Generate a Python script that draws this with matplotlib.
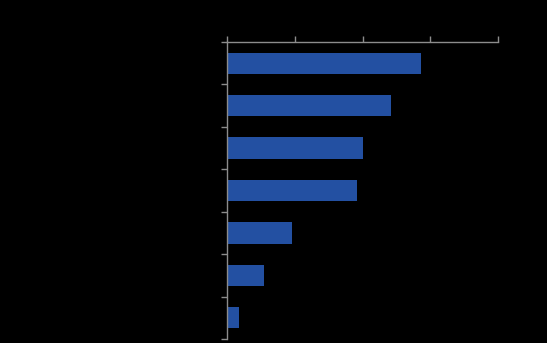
import numpy as np
import matplotlib.pyplot as plt

# categories are not readable in the reference (text drawn black on black)
categories = ['A', 'B', 'C', 'D', 'E', 'F', 'G']
values = [28.6, 24.2, 20.0, 19.2, 9.6, 5.4, 1.8]
x_ticks = [0, 10, 20, 30, 40]

bar_color = '#2350a2'
axis_color = '#8c8c8c'

fig = plt.figure(figsize=(5.47, 3.43), dpi=100, facecolor='black')
ax = fig.add_axes([227 / 547, 1 - 339 / 343, 271 / 547, 297 / 343])
ax.set_facecolor('black')

y = np.arange(len(categories))
ax.barh(y, values, height=0.5, color=bar_color)

ax.set_xlim(x_ticks[0], x_ticks[-1])
ax.set_ylim(len(categories) - 0.5, -0.5)

ax.xaxis.tick_top()
ax.set_xticks(x_ticks)
ax.set_xticklabels([])
ax.set_yticks(np.arange(len(categories) + 1) - 0.5)
ax.set_yticklabels([])
ax.tick_params(colors=axis_color, length=4, width=1)

for side in ['right', 'bottom']:
    ax.spines[side].set_visible(False)
for side in ['top', 'left']:
    ax.spines[side].set_color(axis_color)
    ax.spines[side].set_linewidth(1)

plt.savefig('out.png', dpi=100, facecolor='black')
